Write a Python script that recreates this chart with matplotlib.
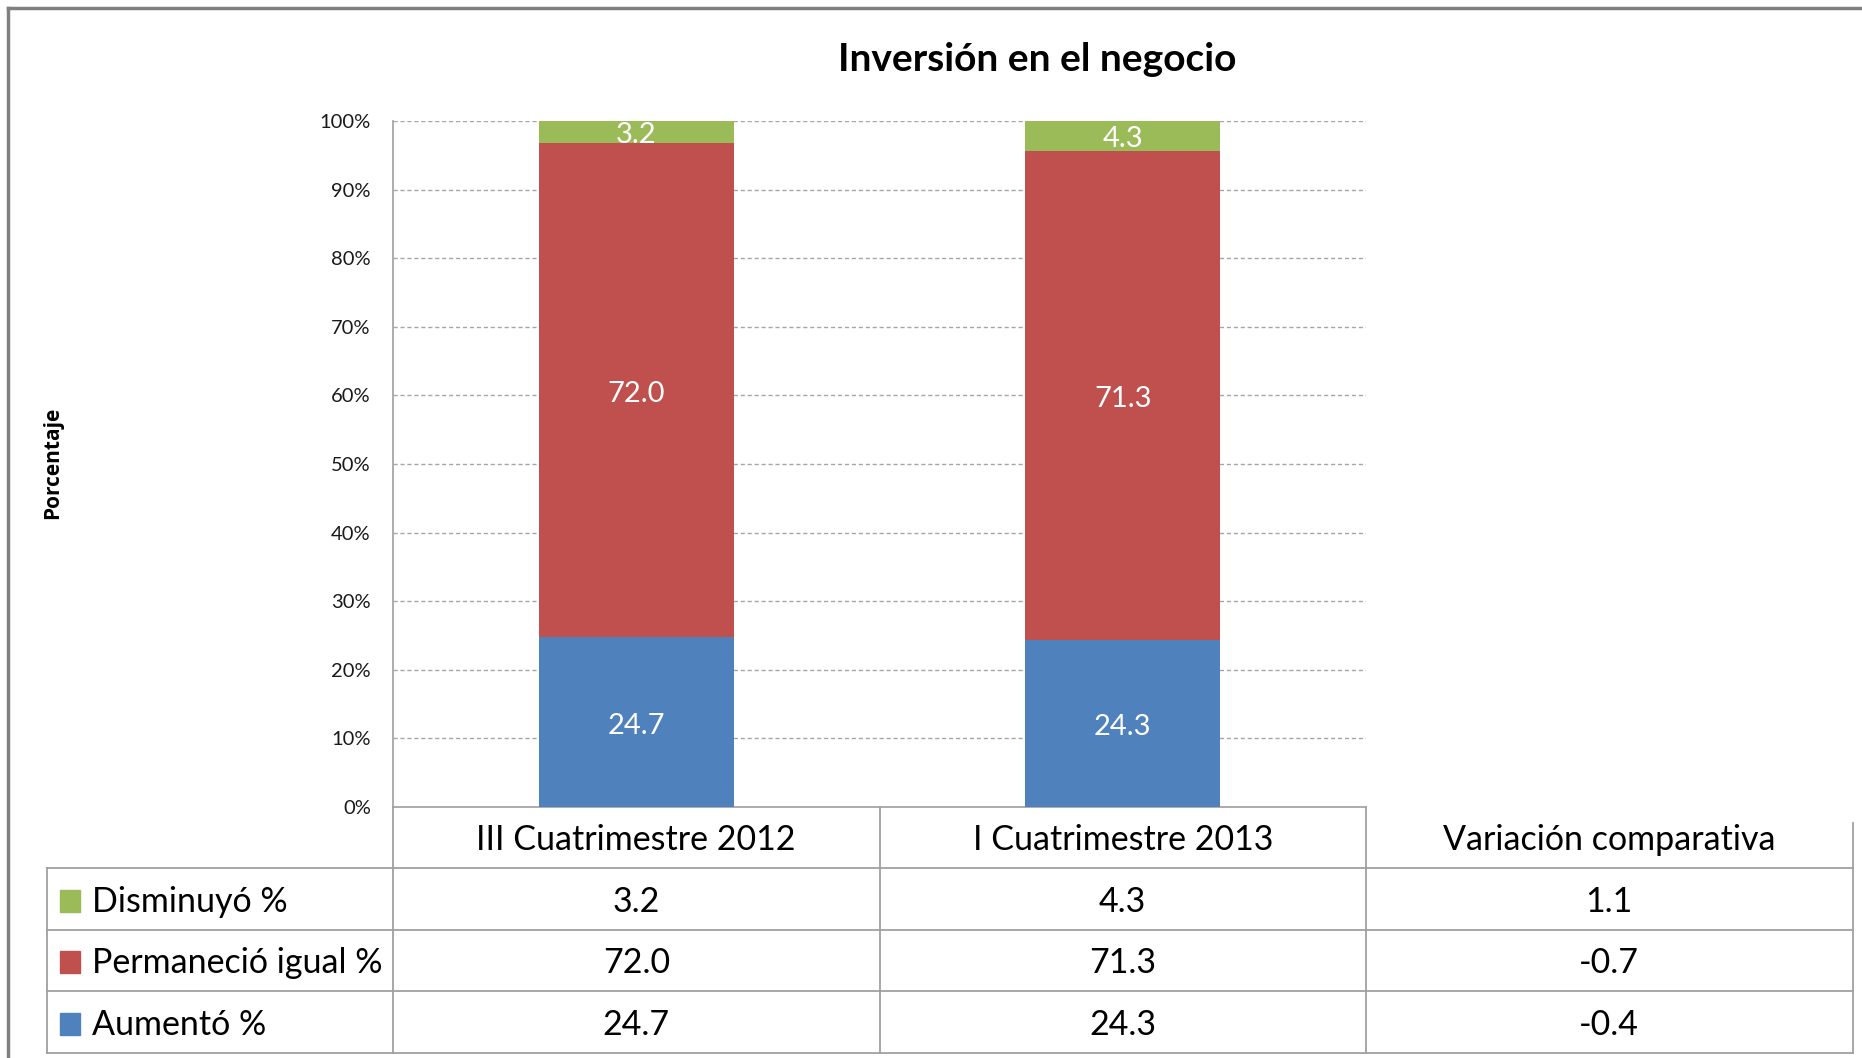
import matplotlib
matplotlib.use("Agg")
import matplotlib.pyplot as plt
from matplotlib.patches import Rectangle
import numpy as np

plt.rcParams['font.family'] = ['Lato', 'DejaVu Sans']

title = "Inversión en el negocio"
periods = ["III Cuatrimestre 2012", "I Cuatrimestre 2013"]
variation_header = "Variación comparativa"
# stacking order, bottom to top
series_names = ["Aumentó %", "Permaneció igual %", "Disminuyó %"]
aumento = [24.7, 24.3]
permanecio = [72.0, 71.3]
disminuyo = [3.2, 4.3]
variacion = [-0.4, -0.7, 1.1]
colors = ["#4F81BD", "#C0504D", "#9BBB59"]
tick_values = [0, 10, 20, 30, 40, 50, 60, 70, 80, 90, 100]

W, H = 1862, 1058
fig = plt.figure(figsize=(W / 100, H / 100), dpi=100)


def px_box(l, t, r, b):
    return [l / W, 1 - b / H, (r - l) / W, (b - t) / H]


ax = fig.add_axes(px_box(393, 121, 1366, 807))
over = fig.add_axes([0, 0, 1, 1], zorder=5)
over.set_xlim(0, W)
over.set_ylim(H, 0)
over.axis("off")
over.patch.set_alpha(0)

series = [np.array(aumento), np.array(permanecio), np.array(disminuyo)]
totals = sum(series)
x = np.arange(len(periods))
bottoms = np.zeros(len(periods))
for vals, col in zip(series, colors):
    pct = vals / totals * 100
    bars = ax.bar(x, pct, 0.4, bottom=bottoms, color=col, zorder=3)
    labels = ax.bar_label(bars, labels=[f"{v:.1f}" for v in vals],
                          label_type="center", color="white", fontsize=21)
    for t in labels:
        t.xyann = (0, -2.5)
    bottoms += pct

ax.set_xlim(-0.5, 1.5)
ax.set_ylim(0, 100)
ax.set_xticks([])
ax.set_yticks(tick_values)
ax.set_yticklabels([f"{t}%" for t in tick_values])
ax.tick_params(axis="y", length=0, pad=16, labelsize=14.5, labelcolor="#1a1a1a")
ax.yaxis.grid(True, linestyle=(0, (3, 2)), color="#A6A6A6", lw=1)
ax.set_axisbelow(True)
for s in ["top", "right"]:
    ax.spines[s].set_visible(False)
for s in ["left", "bottom"]:
    ax.spines[s].set_color("#A6A6A6")
    ax.spines[s].set_linewidth(1.3)


def cat_px(c):
    return ax.transData.transform((c, 0))[0]


# data table under the chart
fs_tab = 24.5
line_kw = dict(color="#A0A0A0", lw=1.3, clip_on=False)
edges = [cat_px(c) for c in [-0.5, 0.5, 1.5, 2.5]]
left_px = 47
axis_y = 807
rows_y = [868, 930, 991, 1053]
for y in rows_y:
    over.plot([left_px, edges[-1]], [y, y], **line_kw)
over.plot([left_px, left_px], [rows_y[0], rows_y[-1]], **line_kw)
for e in edges[:-1]:
    over.plot([e, e], [axis_y, rows_y[-1]], **line_kw)
over.plot([edges[-1], edges[-1]], [823, rows_y[-1]], **line_kw)

headers = periods + [variation_header]
for i, h in enumerate(headers):
    over.text(cat_px(i), rows_y[0] - 18, h, ha="center", va="baseline", fontsize=fs_tab)

row_series = list(range(len(series_names)))[::-1]
for r, k in enumerate(row_series):
    y_base = rows_y[r + 1] - 18
    over.add_patch(Rectangle((60, y_base - 22), 20, 22, color=colors[k], clip_on=False))
    over.text(92, y_base, series_names[k], ha="left", va="baseline", fontsize=fs_tab)
    for i in range(len(periods)):
        over.text(cat_px(i), y_base, f"{series[k][i]:.1f}", ha="center",
                  va="baseline", fontsize=fs_tab)
    over.text(cat_px(2), y_base, f"{variacion[k]:.1f}", ha="center",
              va="baseline", fontsize=fs_tab)

# outer chart frame (left and top edges visible)
over.plot([8, 8], [H + 5, 8], color="#808080", lw=2.5, clip_on=False)
over.plot([8, W + 5], [8, 8], color="#808080", lw=2.5, clip_on=False)

over.text(1037, 71, title, ha="center", va="baseline", fontsize=28,
          fontweight="bold")
over.text(53, 463, "Porcentaje", rotation=90, ha="center", va="center",
          fontsize=15, fontweight="bold", family=["Open Sans", "DejaVu Sans"])

fig.savefig("out.png", dpi=100, facecolor="white")
